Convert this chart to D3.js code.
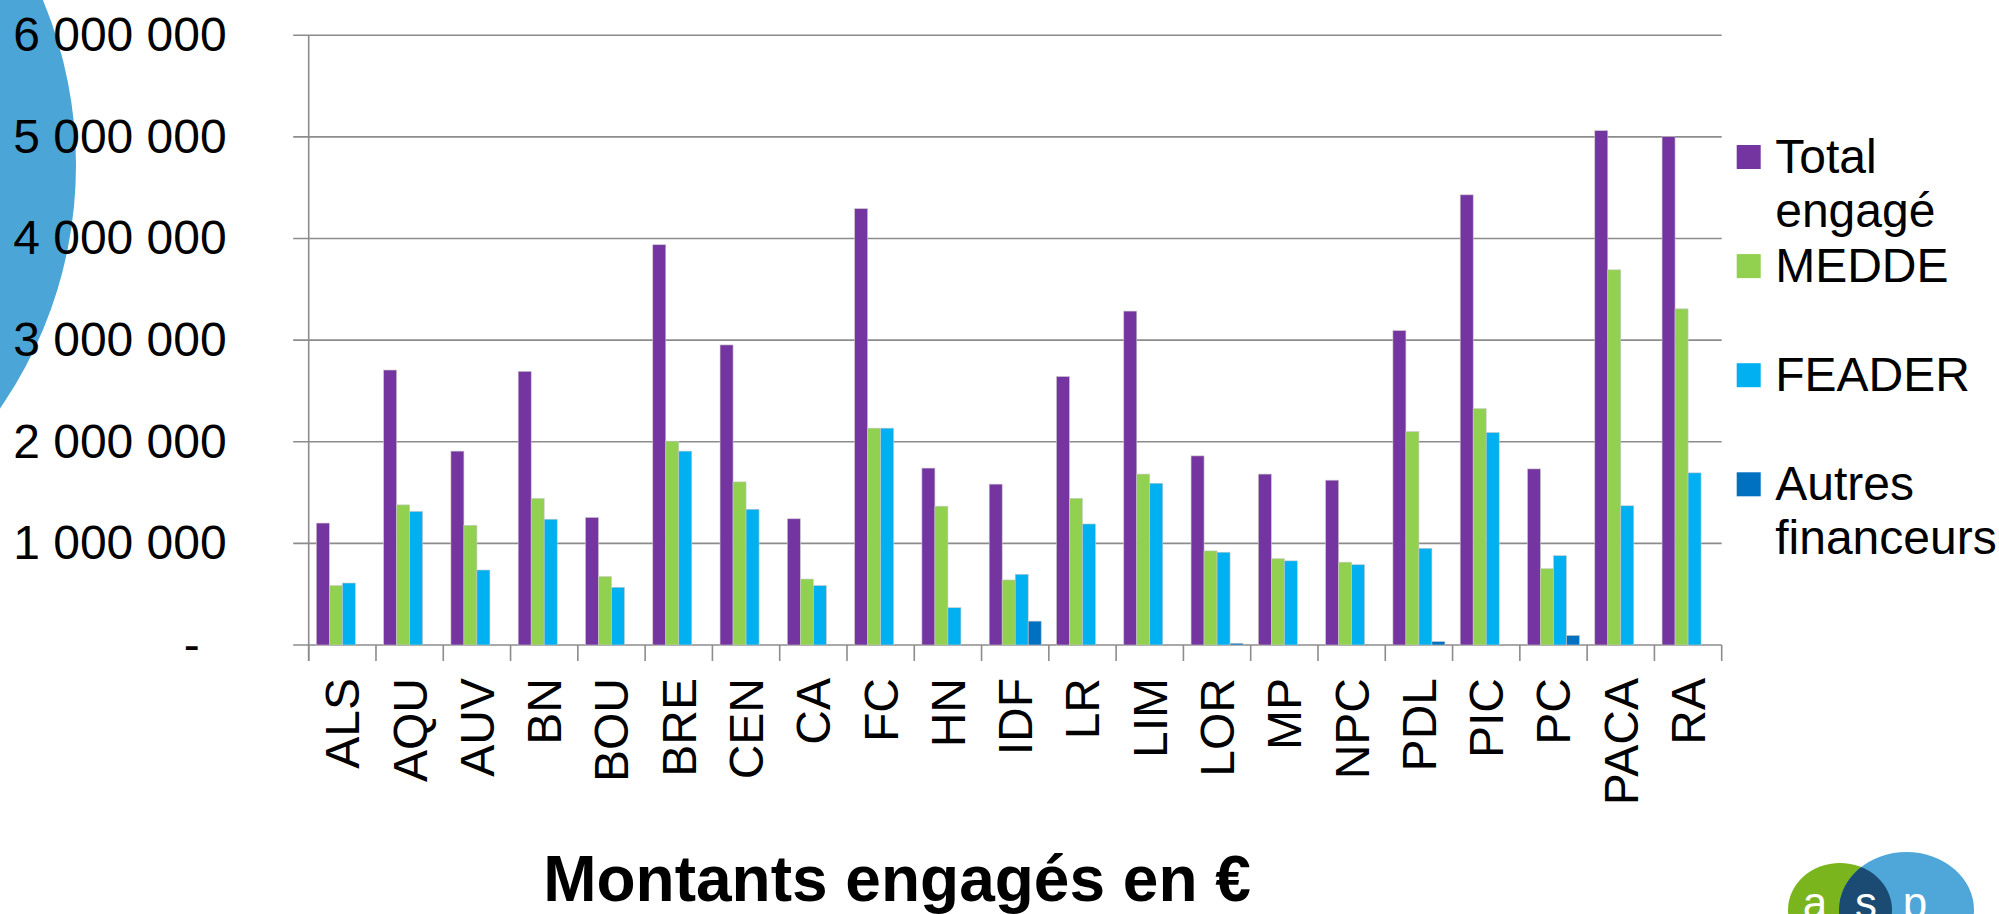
<!DOCTYPE html>
<html>
<head>
<meta charset="utf-8">
<script src="https://cdn.jsdelivr.net/npm/d3@7"></script>
<style>
  html, body { margin: 0; padding: 0; background: #fff; }
  text { font-family: "Liberation Sans", Arial, sans-serif; }
</style>
</head>
<body>
<div id="main"></div>
<script>
// Régions (axe des catégories)
var categories = ["ALS", "AQU", "AUV", "BN", "BOU", "BRE", "CEN", "CA", "FC", "HN", "IDF",
  "LR", "LIM", "LOR", "MP", "NPC", "PDL", "PIC", "PC", "PACA", "RA"];

// Montants par série (en euros)
var totalEngage = [1200000, 2706000, 1908000, 2693000, 1255000, 3939000, 2953000, 1242000, 4294000, 1741000, 1583000,
  2642000, 3286000, 1861000, 1682000, 1622000, 3094000, 4430000, 1733000, 5062000, 5002000];
var medde = [585000, 1379000, 1178000, 1443000, 674000, 2006000, 1605000, 649000, 2134000, 1366000, 640000,
  1443000, 1682000, 926000, 849000, 815000, 2100000, 2326000, 751000, 3692000, 3308000];
var feader = [610000, 1315000, 738000, 1238000, 568000, 1908000, 1336000, 585000, 2134000, 367000, 696000,
  1191000, 1592000, 913000, 828000, 790000, 952000, 2091000, 879000, 1370000, 1694000];
var autres = [0, 0, 0, 0, 0, 0, 0, 0, 0, 0, 235000,
  0, 0, 17000, 0, 0, 34000, 0, 94000, 0, 0];

// Noms des séries (légende) et graduations de l'axe vertical
var seriesNames = [["Total", "engagé"], ["MEDDE"], ["FEADER"], ["Autres", "financeurs"]];
var yTicks = [0, 1000000, 2000000, 3000000, 4000000, 5000000, 6000000];
var chartTitle = "Montants engagés en €";

// Mise en page
var width = 1999, height = 914;
var plot = { left: 308.7, right: 1721.7, top: 35.3, bottom: 645 };
var colors = ["#7535a1", "#92d050", "#00b0f0", "#0070c0"];
var fontSize = 48;

var svg = d3.select("#main").append("svg")
  .attr("width", width)
  .attr("height", height)
  .attr("style", "background-color: #fff; display: block;");

// Disque bleu décoratif à gauche
svg.append("circle")
  .attr("cx", -352)
  .attr("cy", 165)
  .attr("r", 428)
  .attr("fill", "#4ba5d7");

// Echelles
var x = d3.scaleBand().domain(categories).range([plot.left, plot.right]).padding(0);
var groupPad = (x.bandwidth() - 52) / 2;
var xs = d3.scaleBand().domain(d3.range(4)).range([groupPad, x.bandwidth() - groupPad]).padding(0);
var y = d3.scaleLinear().domain([0, 6000000]).range([plot.bottom, plot.top]);

// Lignes de quadrillage (prolongées à gauche comme graduations)
svg.append("g").selectAll("line")
  .data(yTicks)
  .enter().append("line")
  .attr("x1", plot.left - 15.5)
  .attr("x2", plot.right)
  .attr("y1", function(d) { return y(d); })
  .attr("y2", function(d) { return y(d); })
  .attr("stroke", "#8c8c8c")
  .attr("stroke-width", 1.6);

// Axe vertical : étiquettes
var fmt = function(d) {
  if (d === 0) return "-";
  return d3.format(",")(d).replace(/,/g, " ");
};
var yAxis = svg.append("g")
  .attr("transform", "translate(" + plot.left + ",0)")
  .call(d3.axisLeft(y).tickValues(yTicks).tickFormat(fmt).tickSize(0).tickPadding(82));
yAxis.select(".domain").remove();
yAxis.selectAll("text")
  .attr("font-size", fontSize)
  .attr("fill", "#000")
  .attr("font-family", "'Liberation Sans', Arial, sans-serif")
  .attr("dx", function(d) { return d === 0 ? -27 : 0; });

// Axe vertical (trait)
svg.append("line")
  .attr("x1", plot.left).attr("x2", plot.left)
  .attr("y1", plot.top).attr("y2", plot.bottom + 16)
  .attr("stroke", "#8c8c8c")
  .attr("stroke-width", 1.6);

// Axe horizontal : graduations entre catégories
var xAxis = svg.append("g")
  .attr("transform", "translate(0," + plot.bottom + ")");
xAxis.selectAll("line")
  .data(categories.concat(["__end"]))
  .enter().append("line")
  .attr("x1", function(d, i) { return plot.left + i * x.bandwidth(); })
  .attr("x2", function(d, i) { return plot.left + i * x.bandwidth(); })
  .attr("y1", 0)
  .attr("y2", 16)
  .attr("stroke", "#8c8c8c")
  .attr("stroke-width", 1.6);

// Etiquettes des catégories (verticales)
xAxis.selectAll("text")
  .data(categories)
  .enter().append("text")
  .attr("transform", function(d) {
    return "translate(" + (x(d) + x.bandwidth() / 2 + 17) + ",33) rotate(-90)";
  })
  .attr("text-anchor", "end")
  .attr("font-size", fontSize)
  .attr("fill", "#000")
  .text(function(d) { return d; });

// Barres
var series = [totalEngage, medde, feader, autres];
var groups = svg.append("g").selectAll("g")
  .data(categories)
  .enter().append("g")
  .attr("transform", function(d) { return "translate(" + x(d) + ",0)"; });

groups.selectAll("rect")
  .data(function(d, i) {
    return series.map(function(s, k) { return { k: k, v: s[i] }; });
  })
  .enter().append("rect")
  .filter(function(d) { return d.v > 0; })
  .attr("x", function(d) { return xs(d.k); })
  .attr("width", xs.bandwidth())
  .attr("y", function(d) { return y(d.v); })
  .attr("height", function(d) { return y(0) - y(d.v); })
  .attr("fill", function(d) { return colors[d.k]; })
  .attr("stroke", "#c8c8c8")
  .attr("stroke-width", 0.6);

// Légende
var legend = svg.append("g").selectAll("g")
  .data(seriesNames)
  .enter().append("g")
  .attr("transform", function(d, i) { return "translate(1736.7," + (145 + i * 109.1) + ")"; });

legend.append("rect")
  .attr("width", 24)
  .attr("height", 24)
  .attr("fill", function(d, i) { return colors[i]; });

legend.each(function(d) {
  var t = d3.select(this).append("text")
    .attr("x", 38.5)
    .attr("y", 28)
    .attr("font-size", fontSize)
    .attr("fill", "#000");
  d.forEach(function(line, j) {
    t.append("tspan")
      .attr("x", 38.5)
      .attr("dy", j === 0 ? 0 : 54)
      .text(line);
  });
});

// Titre
svg.append("text")
  .attr("x", 897)
  .attr("y", 901)
  .attr("text-anchor", "middle")
  .attr("font-size", 64)
  .attr("font-weight", "bold")
  .attr("fill", "#000")
  .text(chartTitle);

// Logo asp (coin inférieur droit)
var logo = svg.append("g");
logo.append("ellipse")
  .attr("cx", 1840).attr("cy", 910).attr("rx", 52).attr("ry", 47)
  .attr("fill", "#7ab51d");
logo.append("ellipse")
  .attr("cx", 1906.5).attr("cy", 910).attr("rx", 67.5).attr("ry", 58)
  .attr("fill", "#4ea6d9");
logo.append("clipPath").attr("id", "clipVert")
  .append("ellipse")
  .attr("cx", 1840).attr("cy", 910).attr("rx", 52).attr("ry", 47);
logo.append("ellipse")
  .attr("cx", 1906.5).attr("cy", 910).attr("rx", 67.5).attr("ry", 58)
  .attr("fill", "#1b4a72")
  .attr("clip-path", "url(#clipVert)");
logo.selectAll("text.logo")
  .data([["a", 1815], ["s", 1866], ["p", 1915]])
  .enter().append("text")
  .attr("class", "logo")
  .attr("x", function(d) { return d[1]; })
  .attr("y", 918)
  .attr("text-anchor", "middle")
  .attr("font-size", 44)
  .attr("fill", "#fff")
  .text(function(d) { return d[0]; });
</script>
</body>
</html>
